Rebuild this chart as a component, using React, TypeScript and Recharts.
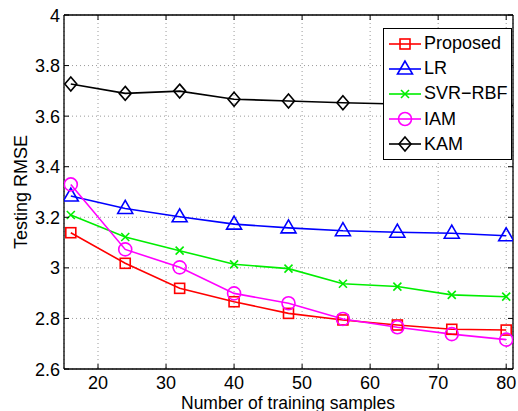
import React from 'react';
import {
  LineChart, Line, XAxis, YAxis, CartesianGrid, Legend, Label
} from 'recharts';

const xValues = [16, 24, 32, 40, 48, 56, 64, 72, 80];
const proposed = [3.139, 3.018, 2.919, 2.866, 2.82, 2.794, 2.774, 2.757, 2.754];
const lr = [3.284, 3.235, 3.202, 3.173, 3.158, 3.147, 3.141, 3.137, 3.127];
const svrRbf = [3.209, 3.122, 3.068, 3.014, 2.997, 2.937, 2.926, 2.893, 2.886];
const iam = [3.33, 3.073, 3.002, 2.899, 2.86, 2.798, 2.765, 2.738, 2.716];
const kam = [3.727, 3.69, 3.699, 3.667, 3.66, 3.653, 3.648, 3.645, 3.642];

const xTicks = [20, 30, 40, 50, 60, 70, 80];
const yTicks = [2.6, 2.8, 3, 3.2, 3.4, 3.6, 3.8, 4];

const series = [
  { key: 'proposed', name: 'Proposed', color: '#ff0000', marker: 'square', values: proposed },
  { key: 'lr', name: 'LR', color: '#0000ff', marker: 'triangle', values: lr },
  { key: 'svr', name: 'SVR\u2212RBF', color: '#00ee00', marker: 'cross', values: svrRbf },
  { key: 'iam', name: 'IAM', color: '#ff00ff', marker: 'circle', values: iam },
  { key: 'kam', name: 'KAM', color: '#000000', marker: 'diamond', values: kam },
];

const data = xValues.map((x, i) => {
  const row: any = { x };
  series.forEach(s => { row[s.key] = s.values[i]; });
  return row;
});

const FONT = '"Liberation Sans", Arial, Helvetica, sans-serif';

const Marker = ({ kind, cx, cy, color }: any) => {
  const common = { fill: 'none', stroke: color, strokeWidth: 1.6 };
  if (kind === 'square') return <rect x={cx - 5} y={cy - 5} width={10} height={10} {...common} />;
  if (kind === 'triangle')
    return <polygon points={`${cx},${cy - 8} ${cx - 7.5},${cy + 5} ${cx + 7.5},${cy + 5}`} {...common} />;
  if (kind === 'circle') return <circle cx={cx} cy={cy} r={6.5} {...common} />;
  if (kind === 'diamond')
    return <polygon points={`${cx},${cy - 7} ${cx + 6},${cy} ${cx},${cy + 7} ${cx - 6},${cy}`} {...common} />;
  return (
    <g {...common}>
      <line x1={cx - 4} y1={cy - 4} x2={cx + 4} y2={cy + 4} />
      <line x1={cx - 4} y1={cy + 4} x2={cx + 4} y2={cy - 4} />
    </g>
  );
};

// matlab style ticks: short marks pointing inward
const BottomTick = ({ x, y, payload }: any) => (
  <g>
    <line x1={x} y1={y} x2={x} y2={y - 5} stroke="#000" />
    <text x={x} y={y + 19.5} textAnchor="middle" fontSize={18} fontFamily={FONT} fill="#000">
      {payload.value}
    </text>
  </g>
);
const TopTick = ({ x, y }: any) => <line x1={x} y1={y} x2={x} y2={y + 5} stroke="#000" />;
const LeftTick = ({ x, y, payload }: any) => (
  <g>
    <line x1={x} y1={y} x2={x + 5} y2={y} stroke="#000" />
    <text x={x - 4} y={y + 6.5} textAnchor="end" fontSize={18} fontFamily={FONT} fill="#000">
      {payload.value}
    </text>
  </g>
);
const RightTick = ({ x, y }: any) => <line x1={x} y1={y} x2={x - 5} y2={y} stroke="#000" />;

const LegendBox = () => (
  <div style={{ width: 127, height: 128, border: '1.5px solid #000', background: '#fff', paddingTop: 2 }}>
    {series.map(s => (
      <div key={s.key} style={{ display: 'flex', alignItems: 'center', height: 25.2 }}>
        <svg width={38} height={20} style={{ marginLeft: 4 }}>
          <line x1={1} y1={10} x2={33} y2={10} stroke={s.color} strokeWidth={1.6} />
          <Marker kind={s.marker} cx={17} cy={10} color={s.color} />
        </svg>
        <span style={{ fontFamily: FONT, fontSize: 18, marginLeft: -2, whiteSpace: 'nowrap' }}>{s.name}</span>
      </div>
    ))}
  </div>
);

export default function App() {
  return (
    <div style={{ position: 'absolute', left: 0, top: 0, width: 518, height: 411, background: '#fff' }}>
      <LineChart width={518} height={411} data={data} margin={{ top: 14, right: 4, bottom: 41, left: 63 }}>
        <CartesianGrid stroke="#9a9a9a" strokeDasharray="1 3" />
        <XAxis
          dataKey="x" type="number" domain={[15, 81]} ticks={xTicks} allowDataOverflow
          height={1} tickSize={0} tickMargin={0} tickLine={false} interval={0}
          axisLine={{ stroke: '#000', strokeWidth: 1.3 }} tick={<BottomTick />}
        >
          <Label
            content={() => (
              <text x={288} y={408.5} textAnchor="middle" fontSize={17.5} fontFamily={FONT} fill="#000">
                Number of training samples
              </text>
            )}
          />
        </XAxis>
        <XAxis
          xAxisId="top" orientation="top" dataKey="x" type="number" domain={[15, 81]} ticks={xTicks}
          allowDataOverflow height={1} tickSize={0} tickMargin={0} tickLine={false} interval={0}
          axisLine={{ stroke: '#000', strokeWidth: 1.3 }} tick={<TopTick />}
        />
        <YAxis
          type="number" domain={[2.6, 4]} ticks={yTicks} allowDataOverflow width={1}
          tickSize={0} tickMargin={0} tickLine={false} interval={0}
          axisLine={{ stroke: '#000', strokeWidth: 1.3 }} tick={<LeftTick />}
        >
          <Label
            content={() => (
              <text x={27} y={192} transform="rotate(-90, 27, 192)" textAnchor="middle" fontSize={18}
                fontFamily={FONT} fill="#000">
                Testing RMSE
              </text>
            )}
          />
        </YAxis>
        <YAxis
          yAxisId="right" orientation="right" type="number" domain={[2.6, 4]} ticks={yTicks}
          allowDataOverflow width={1} tickSize={0} tickMargin={0} tickLine={false} interval={0}
          axisLine={{ stroke: '#000', strokeWidth: 1.3 }} tick={<RightTick />}
        />
        {series.map(s => (
          <Line
            key={s.key} dataKey={s.key} name={s.name} type="linear" stroke={s.color} strokeWidth={1.6}
            isAnimationActive={false}
            dot={(p: any) => <Marker key={`${s.key}-${p.index}`} kind={s.marker} cx={p.cx} cy={p.cy} color={s.color} />}
          />
        ))}
        <Legend
          layout="horizontal" verticalAlign="middle" align="center" content={<LegendBox />}
          wrapperStyle={{ position: 'absolute', left: 383, top: 28, width: 130, height: 131 }}
        />
      </LineChart>
    </div>
  );
}
